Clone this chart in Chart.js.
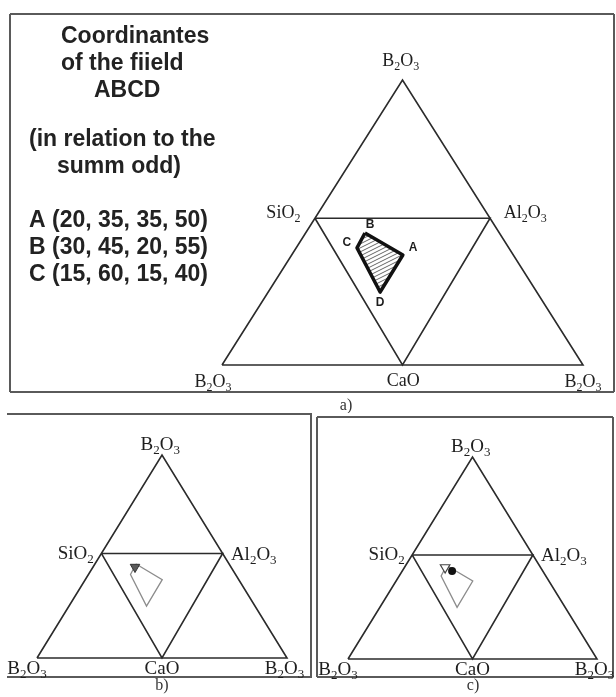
<!DOCTYPE html>
<html>
<head>
<meta charset="utf-8">
<script src="https://cdn.jsdelivr.net/npm/chart.js@4.4.0/dist/chart.umd.min.js"></script>
<style>
  html, body { margin: 0; padding: 0; background: #fff; }
  body { position: relative; width: 616px; height: 697px; overflow: hidden; }
  canvas { position: absolute; }
</style>
</head>
<body>
<canvas id="chartA" width="616" height="413" style="left:0;top:0"></canvas>
<canvas id="chartB" width="314" height="284" style="left:0;top:413px"></canvas>
<canvas id="chartC" width="302" height="284" style="left:314px;top:413px"></canvas>
<script>
// frame of the diagram: x 0..100 along the base, y 0 (base) .. 100 (apex)
const outerTriangle = [[0, 0], [50, 100], [100, 0], [0, 0]];
const innerTriangle = [[25.75, 51.5], [74.25, 51.5], [50, 0], [25.75, 51.5]];
const vertexNames = ["B2O3", "SiO2", "Al2O3", "B2O3", "CaO", "B2O3"];
// label anchors in the same frame (big diagram a, small diagrams b and c)
const labelPosA = [[49.5, 107], [17, 53.5], [84, 53.5], [-2.5, -5.6], [50.2, -5.2], [100, -5.6]];
const labelPosBC = [[49.3, 105.5], [15.5, 52], [86.7, 51.4], [-4, -4.7], [50, -4.7], [99, -4.7]];

// field ABCD (drawn B -> A -> D -> C)
const fieldNames = ["B", "A", "D", "C"];
const fieldPoints = [[39.6, 46.3], [50.1, 38.6], [43.8, 25.6], [37.4, 41.1]];
const fieldLabelPos = [[41.0, 49.1], [52.9, 41.1], [43.8, 21.8], [34.6, 42.8]];

// compositions marked in b) and c)
const pointsB = [[39.2, 44.8]];
const pointsCTriangle = [[39.0, 45.3]];
const pointsCDot = [[41.8, 43.6]];

const sideText = [
  "Coordinantes",
  "of the fiield",
  "ABCD",
  "(in relation to the",
  "summ odd)",
  "A (20, 35, 35, 50)",
  "B (30, 45, 20, 55)",
  "C (15, 60, 15, 40)"
];
const captions = ["a)", "b)", "c)"];

const xy = (arr) => arr.map(p => ({ x: p[0], y: p[1] }));
const closed = (arr) => arr.concat([arr[0]]);

function drawFormula(ctx, str, cx, cy, size) {
  const parts = str.match(/[A-Za-z]+|\d+/g);
  const big = size + "px 'Liberation Serif', 'Times New Roman', serif";
  const small = Math.round(size * 0.68) + "px 'Liberation Serif', 'Times New Roman', serif";
  let w = 0;
  parts.forEach(p => { ctx.font = /\d/.test(p) ? small : big; w += ctx.measureText(p).width; });
  let x = cx - w / 2;
  ctx.textAlign = "left";
  ctx.textBaseline = "alphabetic";
  parts.forEach(p => {
    const sub = /\d/.test(p);
    ctx.font = sub ? small : big;
    ctx.fillText(p, x, cy + size * 0.33 + (sub ? size * 0.2 : 0));
    x += ctx.measureText(p).width;
  });
}

const decorations = {
  id: "decorations",
  afterDraw(chart, args, opts) {
    const ctx = chart.ctx;
    const xs = chart.scales.x, ys = chart.scales.y;
    ctx.save();
    // panel border
    ctx.strokeStyle = "#5a5a5a";
    ctx.lineWidth = 2;
    (opts.border || []).forEach(seg => {
      ctx.beginPath();
      ctx.moveTo(seg[0], seg[1]);
      ctx.lineTo(seg[2], seg[3]);
      ctx.stroke();
    });
    // vertex labels
    ctx.fillStyle = "#1e1e1e";
    vertexNames.forEach((name, i) => {
      drawFormula(ctx, name, xs.getPixelForValue(opts.labelPos[i][0]),
        ys.getPixelForValue(opts.labelPos[i][1]), opts.labelSize);
    });
    // letters of the field
    if (opts.fieldLetters) {
      ctx.font = "bold 12px 'Liberation Sans', Arial, sans-serif";
      ctx.textAlign = "center";
      ctx.textBaseline = "middle";
      fieldNames.forEach((n, i) => {
        ctx.fillText(n, xs.getPixelForValue(fieldLabelPos[i][0]), ys.getPixelForValue(fieldLabelPos[i][1]));
      });
    }
    // side text
    if (opts.sideText) {
      ctx.font = "bold 23px 'Liberation Sans', Arial, sans-serif";
      ctx.fillStyle = "#222";
      ctx.textAlign = "left";
      ctx.textBaseline = "middle";
      sideText.forEach((t, i) => ctx.fillText(t, opts.sideText[i][0], opts.sideText[i][1]));
    }
    // caption
    ctx.font = "16px 'Liberation Serif', 'Times New Roman', serif";
    ctx.fillStyle = "#333";
    ctx.textAlign = "center";
    ctx.textBaseline = "middle";
    ctx.fillText(captions[opts.caption[0]], opts.caption[1], opts.caption[2]);
    ctx.restore();
  }
};

function gridSets() {
  const line = { showLine: true, borderColor: "#2b2b2b", borderWidth: 1.6, pointRadius: 0, fill: false, clip: false, order: 3 };
  return [
    Object.assign({ label: "outer", data: xy(outerTriangle) }, line),
    Object.assign({ label: "inner", data: xy(innerTriangle) }, line)
  ];
}

function makeChart(id, datasets, padding, deco) {
  return new Chart(document.getElementById(id), {
    type: "scatter",
    data: { datasets: datasets },
    options: {
      responsive: false,
      animation: false,
      layout: { padding: padding },
      scales: {
        x: { type: "linear", min: 0, max: 100, display: false },
        y: { type: "linear", min: 0, max: 100, display: false }
      },
      plugins: {
        legend: { display: false },
        tooltip: { enabled: false },
        decorations: deco
      }
    },
    plugins: [decorations]
  });
}

// hatch pattern for the field
const tile = document.createElement("canvas");
tile.width = 8; tile.height = 4;
const tg = tile.getContext("2d");
tg.strokeStyle = "#666";
tg.lineWidth = 1;
for (let k = 0; k <= 2; k++) {
  tg.beginPath(); tg.moveTo(0, 4 * k); tg.lineTo(8, 4 * k - 4); tg.stroke();
}
const hatch = document.getElementById("chartA").getContext("2d").createPattern(tile, "repeat");

// a)
makeChart("chartA", gridSets().concat([{
  label: "field ABCD",
  data: xy(closed(fieldPoints)),
  showLine: true,
  borderColor: "#111",
  borderWidth: 3.5,
  borderJoinStyle: "round",
  backgroundColor: hatch,
  fill: "shape",
  pointRadius: 0,
  clip: false,
  order: 1
}]), { left: 222, right: 33, top: 80, bottom: 48 }, {
  border: [[10, 14, 614, 14], [614, 14, 614, 392], [614, 392, 10, 392], [10, 392, 10, 14]],
  labelPos: labelPosA,
  labelSize: 18,
  fieldLetters: true,
  sideText: [[61, 37], [61, 64], [94, 91], [29, 140], [57, 167], [29, 221], [29, 248], [29, 275]],
  caption: [0, 346, 406]
});

const outlineField = {
  label: "field ABCD",
  data: xy(closed(fieldPoints)),
  showLine: true,
  borderColor: "#8c8c8c",
  borderWidth: 1.3,
  pointRadius: 0,
  fill: false,
  clip: false,
  order: 2
};

// b)
makeChart("chartB", gridSets().concat([outlineField, {
  label: "b",
  data: xy(pointsB),
  pointStyle: "triangle",
  rotation: 180,
  pointRadius: 5.5,
  backgroundColor: "#5a5a5a",
  borderColor: "#333",
  borderWidth: 1,
  clip: false,
  order: 0
}]), { left: 37, right: 27, top: 42, bottom: 39 }, {
  border: [[7, 1, 312, 1], [311, 1, 311, 264], [312, 264, 7, 264]],
  labelPos: labelPosBC,
  labelSize: 19,
  caption: [1, 162, 273]
});

// c)
makeChart("chartC", gridSets().concat([Object.assign({}, outlineField), {
  label: "c triangle",
  data: xy(pointsCTriangle),
  pointStyle: "triangle",
  rotation: 180,
  pointRadius: 5.5,
  backgroundColor: "#fff",
  borderColor: "#444",
  borderWidth: 1.2,
  clip: false,
  order: 1
}, {
  label: "c dot",
  data: xy(pointsCDot),
  pointStyle: "circle",
  pointRadius: 4,
  backgroundColor: "#111",
  borderColor: "#111",
  borderWidth: 0,
  clip: false,
  order: 0
}]), { left: 34, right: 19, top: 44, bottom: 38 }, {
  border: [[3, 4, 299, 4], [299, 4, 299, 264], [299, 264, 3, 264], [3, 264, 3, 4]],
  labelPos: labelPosBC,
  labelSize: 19,
  caption: [2, 159, 273]
});
</script>
</body>
</html>
